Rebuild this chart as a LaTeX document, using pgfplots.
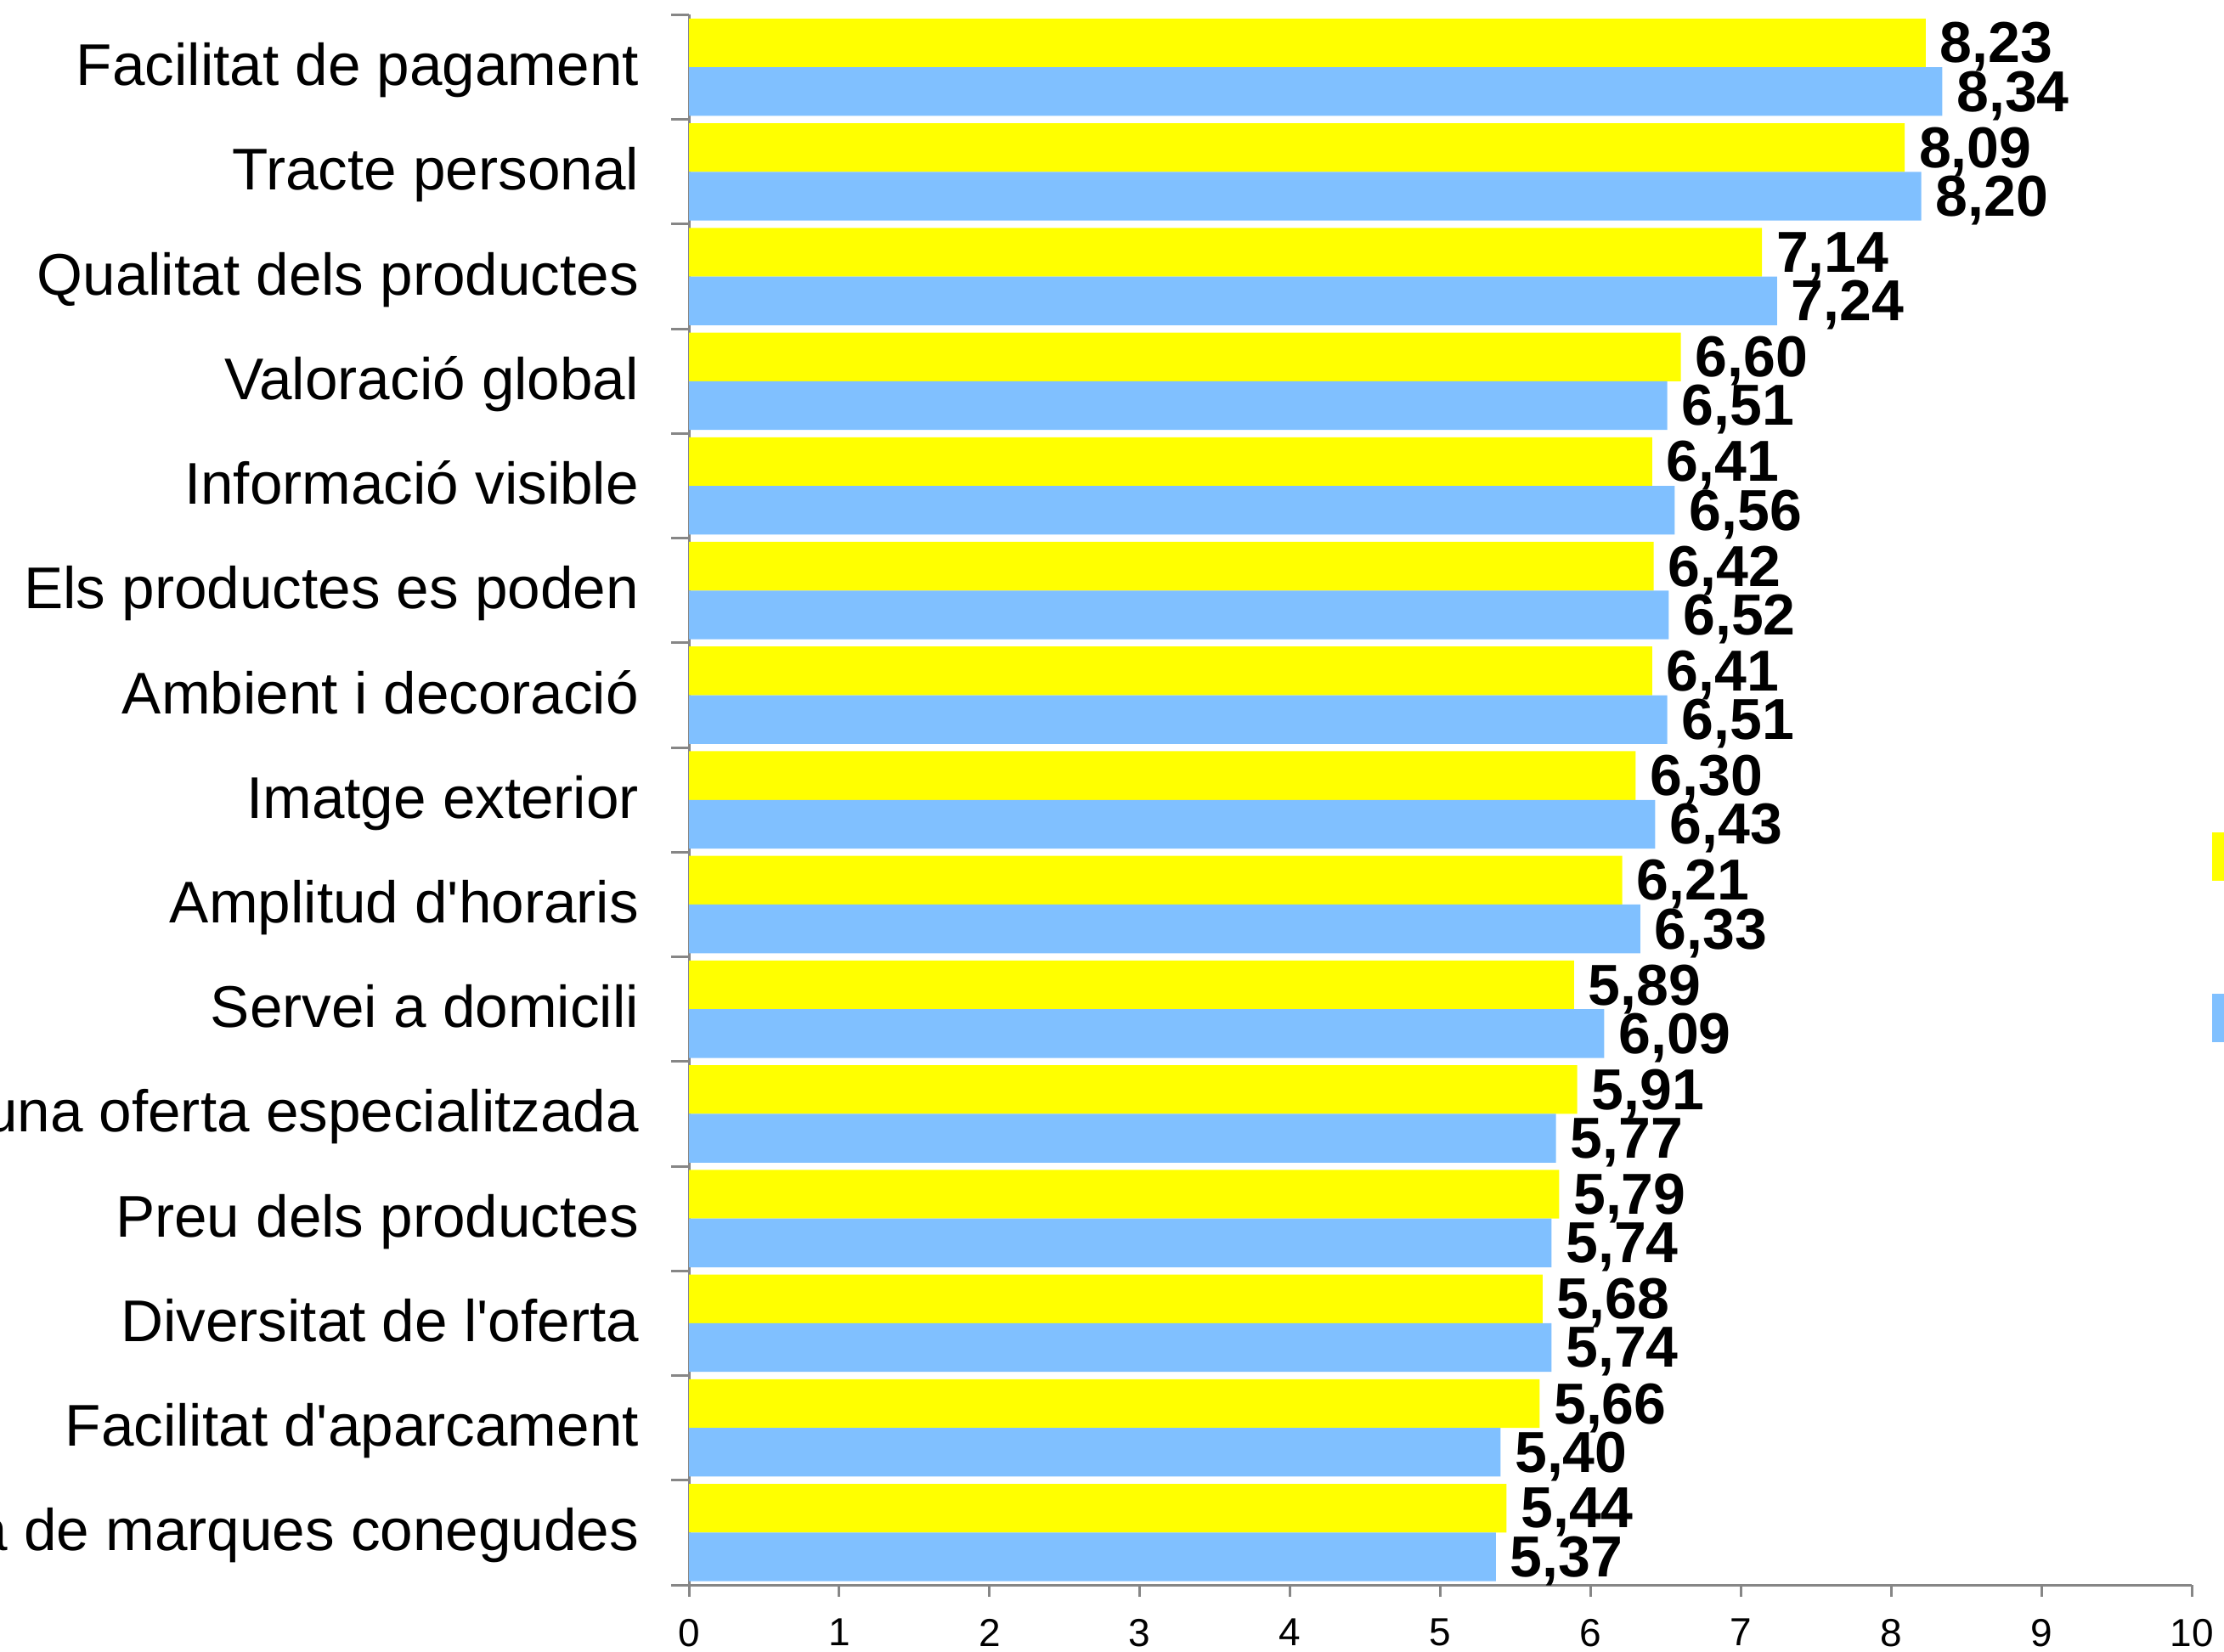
\documentclass[border=0pt]{standalone}
\usepackage{pgfplots}
\pgfplotsset{compat=1.18}
\usepackage{fontspec}
\setmainfont{Liberation Sans}
\definecolor{ybar}{RGB}{255,255,0}
\definecolor{bbar}{RGB}{128,192,255}
\definecolor{axgray}{RGB}{134,134,134}
\begin{document}
\begin{tikzpicture}
\path[use as bounding box] (0,0) rectangle (523.6pt,388.8pt);
\begin{axis}[
  at={(162.2pt,15.6pt)}, anchor=south west,
  scale only axis, width=353.8pt, height=369.7pt,
  xmin=0, xmax=10, ymin=-0.5, ymax=14.5,
  axis lines*=left,
  axis line style={axgray, line width=0.6pt, -},
  xtick={0,1,...,10},
  ytick={0,1,...,14},
  minor ytick={-0.5,0.5,...,14.5},
  yticklabels={a de marques conegudes, Facilitat d\textquotesingle aparcament, Diversitat de l\textquotesingle oferta, Preu dels productes, una oferta especialitzada, Servei a domicili, Amplitud d\textquotesingle horaris, Imatge exterior, Ambient i decoració, Els productes es poden, Informació visible, Valoració global, Qualitat dels productes, Tracte personal, Facilitat de pagament},
  tick align=outside,
  tick style={axgray, line width=0.6pt},
  major tick length=2.8pt,
  major y tick style={draw=none},
  minor tick length=4.2pt,
  /pgf/number format/assume math mode=true,
  xticklabel style={font=\fontsize{9.2}{11}\selectfont, inner sep=0pt, anchor=north, yshift=-5pt},
  yticklabel style={font=\fontsize{13.85}{16}\selectfont, inner sep=0pt, anchor=base east, xshift=-8.8pt, yshift=-4.3pt},
  xbar,
  bar width=11.46pt,
  point meta=x,
  nodes near coords={\pgfmathprintnumber[fixed,fixed zerofill,precision=2,use comma]{\pgfplotspointmeta}},
  every node near coord/.style={font=\fontsize{13.6}{16}\selectfont\bfseries, anchor=west, inner sep=0pt, xshift=3.2pt, black},
  legend image code/.code={\fill[#1] (0pt,-5.7pt) rectangle (14pt,5.7pt);},
  legend style={at={(axis description cs:1.0136,0.4793)}, anchor=north west, draw=none, fill=none, inner sep=0pt, outer sep=0pt, row sep=26.6pt, nodes={inner sep=0pt}, font=\fontsize{13.6}{16}\selectfont},
]
\addplot[fill=ybar, draw=none, bar shift=5.73pt, every node near coord/.append style={yshift=4.73pt}] coordinates {
(5.44,0) (5.66,1) (5.68,2) (5.79,3) (5.91,4) (5.89,5) (6.21,6) (6.30,7) (6.41,8) (6.42,9) (6.41,10) (6.60,11) (7.14,12) (8.09,13) (8.23,14)};
\addlegendentry{~}
\addplot[fill=bbar, draw=none, bar shift=-5.73pt, every node near coord/.append style={yshift=-6.73pt}] coordinates {
(5.37,0) (5.40,1) (5.74,2) (5.74,3) (5.77,4) (6.09,5) (6.33,6) (6.43,7) (6.51,8) (6.52,9) (6.56,10) (6.51,11) (7.24,12) (8.20,13) (8.34,14)};
\addlegendentry{~}
\end{axis}
\end{tikzpicture}
\end{document}
